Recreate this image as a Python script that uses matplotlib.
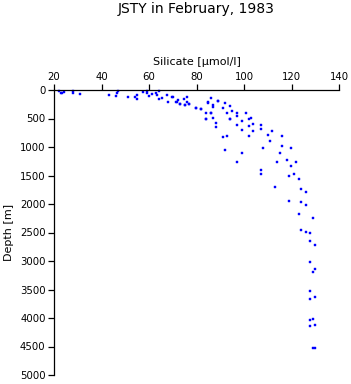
import matplotlib
matplotlib.use("Agg")
import matplotlib.pyplot as plt

plt.rcParams['font.family'] = ['DejaVu Sans']

title = "JSTY in February, 1983"
xlabel = "Silicate [\u00b5mol/l]"
ylabel = "Depth [m]"
xticks = [20, 40, 60, 80, 100, 120, 140]
yticks = [0, 500, 1000, 1500, 2000, 2500, 3000, 3500, 4000, 4500, 5000]

silicate = [22.1, 22.8, 23.4, 24.2, 28.1, 28.1, 31.1, 43.2, 46.2, 46.6, 47.1, 51.3, 54.1, 55.1, 55.1,
            57.3, 59.0, 59.0, 60.1, 61.1, 62.9, 63.2, 64.2, 64.2, 65.3, 67.4, 68.1, 69.5, 70.2, 71.2,
            72.1, 73.1, 74.7, 75.2, 76.1, 76.1, 77.0, 79.8, 82.0, 84.0, 85.0, 86.1, 86.1, 87.1, 87.1,
            89.2, 91.0, 92.1, 93.0, 94.1, 95.1, 97.2, 97.2, 84.1, 87.1, 88.1, 88.1, 94.1, 91.0, 93.0,
            92.1, 97.2, 97.2, 71.7, 73.2, 75.3, 77.0, 79.9, 82.0, 85.0, 89.0, 84.1, 86.1, 94.0,
            101.0, 103.1, 102.0, 99.0, 103.9, 107.2, 107.2, 102.2, 99.2, 103.9, 102.0, 110.2, 111.9,
            116.1, 111.1, 108.1, 116.1, 119.9, 115.0, 99.2, 114.0, 118.0, 121.9, 119.9, 107.2, 107.2,
            121.2, 123.0, 119.1, 113.2, 124.1, 126.0, 119.1, 124.1, 126.0, 123.0, 128.9, 124.1, 126.0,
            127.9, 127.9, 130.0, 127.9, 130.0, 129.0, 127.9, 130.0, 127.9, 127.9, 129.0, 130.0, 127.9,
            129.0, 130.0]
depth = [18, 47, 58, 30, 18, 58, 75, 93, 105, 47, 12, 117, 128, 93, 163,
         30, 12, 58, 105, 75, 58, 88, 18, 163, 135, 93, 216, 117, 128, 216,
         175, 246, 158, 263, 216, 128, 251, 316, 339, 409, 222, 146, 409, 263, 304,
         193, 316, 234, 409, 275, 368, 409, 456, 514, 497, 584, 643, 514, 830, 807,
         1053, 614, 1268, 205, 251, 263, 246, 310, 333, 216, 187, 508, 409, 508,
         409, 497, 514, 550, 596, 620, 690, 637, 708, 725, 813, 784, 713,
         813, 901, 1018, 988, 1018, 1111, 1111, 1263, 1228, 1269, 1339, 1409, 1479,
         1474, 1567, 1514, 1696, 1742, 1795, 1953, 1959, 2012, 2181, 2251, 2456, 2497,
         2515, 2655, 2719, 3023, 3146, 3199, 3526, 3637, 3672, 4035, 4023, 4123, 4146,
         4532, 4532]

fig = plt.figure(figsize=(3.51, 3.84), dpi=100)
ax = fig.add_axes([54/351, 1-375/384, (339-54)/351, (375-90)/384])
ax.plot(silicate, depth, linestyle='none', marker='s', markersize=1.8,
        markerfacecolor='#0000ff', markeredgecolor='#0000ff', markeredgewidth=0.3, clip_on=False)
ax.set_xlim(20, 140)
ax.set_ylim(5000, 0)
ax.set_xticks(xticks)
ax.set_yticks(yticks)
ax.xaxis.tick_top()
ax.xaxis.set_label_position('top')
ax.spines['right'].set_visible(False)
ax.spines['bottom'].set_visible(False)
for s in ['top', 'left']:
    ax.spines[s].set_linewidth(0.9)
ax.tick_params(axis='both', direction='out', length=4, width=0.9, labelsize=7.3, pad=2)
ax.tick_params(axis='x', pad=1.5)
ax.set_xlabel(xlabel, fontsize=8, labelpad=5)
ax.set_ylabel(ylabel, fontsize=8, labelpad=4)
fig.text(196/351, 1-9.5/384, title, ha='center', va='center', fontsize=10)
fig.savefig("out.png", dpi=100)
